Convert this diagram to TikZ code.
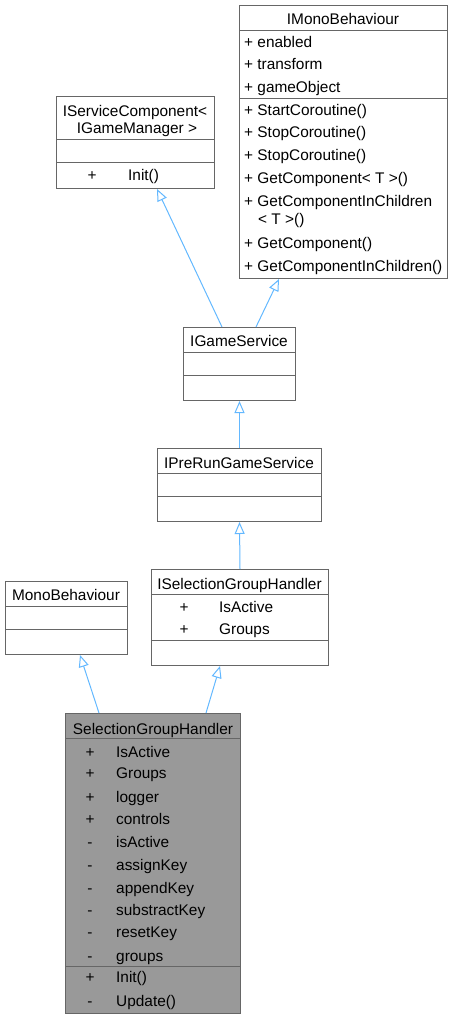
\documentclass[tikz,border=0pt]{standalone}
\usepackage{fontspec}
\setmainfont{Liberation Sans}
\usetikzlibrary{arrows.meta}
\definecolor{edgecol}{HTML}{63B8FF}
\definecolor{bord}{HTML}{666666}
\definecolor{hl}{HTML}{999999}
\begin{document}
\begin{tikzpicture}[x=1pt,y=-1pt,
  cls/.style={draw=bord, line width=1pt, fill=white, inner sep=0pt, anchor=north west},
  hlcls/.style={cls, fill=hl},
  sepline/.style={draw=bord, line width=1pt},
  txt/.style={font=\fontsize{15.4}{18}\selectfont, inner sep=0pt, text=black, anchor=base},
  ltxt/.style={txt, anchor=base west},
  inh/.style={draw=edgecol, line width=1pt, -{Triangle[open, length=12pt, width=10pt, fill=white]}}]
\useasboundingbox (0,0) rectangle (453,1019);

% ---------- IMonoBehaviour ----------
\node[cls, minimum width=208pt, minimum height=273pt] (imono) at (239,5) {};
\draw[sepline] ([yshift=-26pt]imono.north west) -- ([yshift=-26pt]imono.north east);
\draw[sepline] ([yshift=-94pt]imono.north west) -- ([yshift=-94pt]imono.north east);
\node[txt] (imonoT) at (343,25) {IMonoBehaviour};
\node[ltxt] (m1) at (244,48) {+ enabled};
\node[ltxt] (m2) at (244,70) {+ transform};
\node[ltxt] (m3) at (244,93) {+ gameObject};
\node[ltxt] (m4) at (244,116) {+ StartCoroutine()};
\node[ltxt] (m5) at (244,138) {+ StopCoroutine()};
\node[ltxt] (m6) at (244,161) {+ StopCoroutine()};
\node[ltxt] (m7) at (244,184) {+ GetComponent< T >()};
\node[ltxt] (m8) at (244,206) {+ GetComponentInChildren};
\node[ltxt] (m9) at (258,224) {< T >()};
\node[ltxt] (m10) at (244,248) {+ GetComponent()};
\node[ltxt] (m11) at (244,271) {+ GetComponentInChildren()};

% ---------- IServiceComponent ----------
\node[cls, minimum width=158pt, minimum height=92pt] (iserv) at (56,96) {};
\draw[sepline] ([yshift=-44pt]iserv.north west) -- ([yshift=-44pt]iserv.north east);
\draw[sepline] ([yshift=-67pt]iserv.north west) -- ([yshift=-67pt]iserv.north east);
\node[txt] (iservT1) at (135,117) {IServiceComponent<};
\node[txt] (iservT2) at (137,134) {IGameManager >};
\node[txt] (s1p) at (92,181) {+};
\node[ltxt] (s1) at (128,181) {Init()};

% ---------- IGameService ----------
\node[cls, minimum width=112pt, minimum height=73pt] (igs) at (183,327) {};
\draw[sepline] ([yshift=-25pt]igs.north west) -- ([yshift=-25pt]igs.north east);
\draw[sepline] ([yshift=-48pt]igs.north west) -- ([yshift=-48pt]igs.north east);
\node[txt] (igsT) at (239,346) {IGameService};

% ---------- IPreRunGameService ----------
\node[cls, minimum width=164pt, minimum height=73pt] (ipre) at (157,448) {};
\draw[sepline] ([yshift=-25pt]ipre.north west) -- ([yshift=-25pt]ipre.north east);
\draw[sepline] ([yshift=-48pt]ipre.north west) -- ([yshift=-48pt]ipre.north east);
\node[txt] (ipreT) at (239,468) {IPreRunGameService};

% ---------- ISelectionGroupHandler ----------
\node[cls, minimum width=177pt, minimum height=96pt] (isel) at (151,569) {};
\draw[sepline] ([yshift=-25pt]isel.north west) -- ([yshift=-25pt]isel.north east);
\draw[sepline] ([yshift=-71pt]isel.north west) -- ([yshift=-71pt]isel.north east);
\node[txt] (iselT) at (239.5,589) {ISelectionGroupHandler};
\node[txt] (i1p) at (184,612) {+};
\node[ltxt] (i1) at (219,612) {IsActive};
\node[txt] (i2p) at (184,634) {+};
\node[ltxt] (i2) at (219,634) {Groups};

% ---------- MonoBehaviour ----------
\node[cls, minimum width=122pt, minimum height=73pt] (mono) at (5,581) {};
\draw[sepline] ([yshift=-25pt]mono.north west) -- ([yshift=-25pt]mono.north east);
\draw[sepline] ([yshift=-48pt]mono.north west) -- ([yshift=-48pt]mono.north east);
\node[txt] (monoT) at (66,600) {MonoBehaviour};

% ---------- SelectionGroupHandler ----------
\node[hlcls, minimum width=175pt, minimum height=300pt] (sgh) at (65,713) {};
\draw[sepline] ([yshift=-25pt]sgh.north west) -- ([yshift=-25pt]sgh.north east);
\draw[sepline] ([yshift=-253pt]sgh.north west) -- ([yshift=-253pt]sgh.north east);
\node[txt] (sghT) at (153,734) {SelectionGroupHandler};
\node[txt] (g1p) at (90,757) {+};   \node[ltxt] (g1) at (116,757) {IsActive};
\node[txt] (g2p) at (90,778) {+};   \node[ltxt] (g2) at (116,778) {Groups};
\node[txt] (g3p) at (90,802) {+};   \node[ltxt] (g3) at (116,802) {logger};
\node[txt] (g4p) at (90,824) {+};   \node[ltxt] (g4) at (116,824) {controls};
\node[txt] (g5p) at (90,847) {-};   \node[ltxt] (g5) at (116,847) {isActive};
\node[txt] (g6p) at (90,870) {-};   \node[ltxt] (g6) at (116,870) {assignKey};
\node[txt] (g7p) at (90,893) {-};   \node[ltxt] (g7) at (116,893) {appendKey};
\node[txt] (g8p) at (90,915) {-};   \node[ltxt] (g8) at (116,915) {substractKey};
\node[txt] (g9p) at (90,937) {-};   \node[ltxt] (g9) at (116,937) {resetKey};
\node[txt] (g10p) at (90,961) {-};  \node[ltxt] (g10) at (116,961) {groups};
\node[txt] (h1p) at (90,982) {+};   \node[ltxt] (h1) at (116,982) {Init()};
\node[txt] (h2p) at (90,1006) {-};  \node[ltxt] (h2) at (116,1006) {Update()};

% ---------- inheritance connectors ----------
\draw[inh] ([xshift=39pt]igs.north west) -- ([xshift=101pt]iserv.south west);
\draw[inh] ([xshift=73pt]igs.north west) -- ([xshift=40pt]imono.south west);
\draw[inh] (ipre.north) -- (igs.south);
\draw[inh] (isel.north) -- (ipre.south);
\draw[inh] ([xshift=34pt]sgh.north west) -- ([xshift=75pt]mono.south west);
\draw[inh] ([xshift=141pt]sgh.north west) -- ([xshift=69pt]isel.south west);
\end{tikzpicture}
\end{document}
